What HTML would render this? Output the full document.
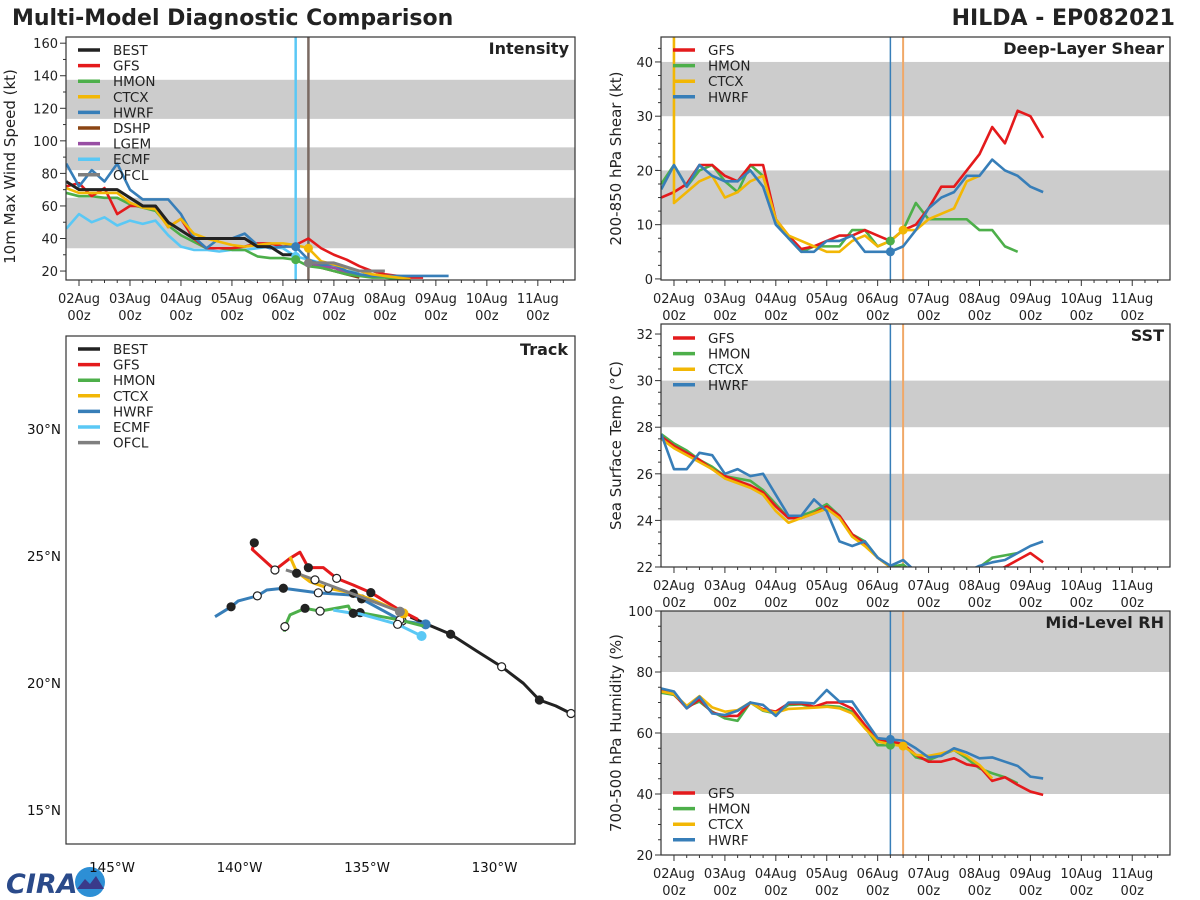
<!DOCTYPE html>
<html><head><meta charset="utf-8"><style>
html,body{margin:0;padding:0;background:#fff;}
svg{display:block;font-family:"DejaVu Sans","Liberation Sans",sans-serif;}
</style></head><body>
<svg id="chart" width="1200" height="900" viewBox="0 0 1200 900" xmlns="http://www.w3.org/2000/svg">
<text x="12" y="25" font-size="22" font-weight="bold" fill="#222">Multi-Model Diagnostic Comparison</text>
<text x="1175" y="25" font-size="22" font-weight="bold" fill="#222" text-anchor="end">HILDA - EP082021</text>
<g>
<text x="6" y="893" font-size="27" font-weight="bold" fill="#2a4a8a" font-style="italic">CIRA</text>
<circle cx="90" cy="882" r="15" fill="#2d8fd5"/>
<path d="M77 889 L85 879 L90 884 L96 876 L104 889 Z" fill="#3a3a8a"/>
</g>
</svg>
<script>
// ---------- time-series data (hours from 02Aug 00z) ----------
const intHours = [-6,0,6,12,18,24,30,36,42,48,54,60,66,72,78,84,90,96,102,108,114,120,126,132,138,144,150,156,162,168,174];
const intBEST = [75,70,70,70,70,65,60,60,50,45,40,40,40,40,40,35,35,30,30];
const intGFS  = [72,74,66,71,55,60,60,59,47,52,40,34,34,34,35,37,37,35,36,40,34,30,27,23,20,18,17,16,16];
const intHMON = [68,66,66,65,65,61,59,57,48,42,38,34,34,33,33,29,28,28,27,23,22,20,18,17,16,16,15,15];
const intCTCX = [71,68,68,68,68,62,59,58,47,52,43,40,38,36,35,36,37,37,36,34,26,24,22,20,18,17,16,15];
const intHWRF = [86,72,82,75,86,70,64,64,64,55,41,34,40,40,43,36,34,35,35,27,24,24,20,18,17,17,17,17,17,17,17];
const intECMF = [46,55,50,53,48,51,49,51,42,35,33,33,32,33,33,34,35,34,29,27,25,23,22,19];
const intDSHPHours = [108,114,120,126,132];
const intDSHP = [25,22,20,18,16];
const intLGEM = [25,23,22,19,17];
const intOFCLHours = [108,120,132,144];
const intOFCL = [25,25,20,20];

const shrGFS  = [15,16,17.5,21,21,19,18,21,21,11,8,5.5,6,7,8,8,9,8,7,9,10,13,17,17,20,23,28,25,31,30,26];
const shrHMON = [17.5,21,17,20,21,18,16,21,19,11,7.5,5,6,6,6,9,9,6,7,9,14,11,11,11,11,9,9,6,5];
const shrCTCX = [9999,14,16,18,19,15,16,18,19,11,8,7,6,5,5,7,8,6,7,9,9,11,12,13,18,19];
const shrHWRF = [16.5,21,17,21,19,18,18,20,17,10,7.5,5,5,7,7,8,5,5,5,6,9,13,15,16,19,19,22,20,19,17,16];

const sstGFS  = [27.6,27.2,26.9,26.6,26.2,25.9,25.7,25.5,25.2,24.6,24.1,24.1,24.3,24.6,24.2,23.4,23.0,22.4,22.0,21.7,21.5,21.4,21.3,21.4,21.5,21.6,21.8,22.0,22.3,22.6,22.2];
const sstHMON = [27.7,27.3,27.0,26.6,26.3,25.9,25.8,25.7,25.3,24.7,24.1,24.2,24.4,24.7,24.2,23.4,23.1,22.4,22.0,22.1,21.7,21.5,21.4,21.5,21.7,22.0,22.4,22.5,22.6];
const sstCTCX = [27.5,27.1,26.8,26.5,26.2,25.8,25.6,25.4,25.1,24.4,23.9,24.1,24.3,24.5,24.1,23.3,22.9,22.4,22.0,21.8,21.6];
const sstHWRF = [27.7,26.2,26.2,26.9,26.8,26.0,26.2,25.9,26.0,25.1,24.2,24.2,24.9,24.4,23.1,22.9,23.1,22.4,22.05,22.3,21.8,21.6,21.5,21.6,21.8,22.05,22.2,22.3,22.6,22.9,23.1];

const rhGFS  = [73.9,72.8,68.1,71,66.7,65.6,65.6,70,67.8,67,69.7,69.7,68.6,70,70,68,62.6,57.5,57.2,56.4,52.8,50.6,50.6,51.7,49.7,49,44.3,45.5,43,40.8,39.7];
const rhHMON = [73.2,72.5,68.6,70.3,67,64.8,64,70,67.3,66.4,69.2,69.4,68.4,68.9,68.6,67,62,56,56,56.6,52,51.1,52.8,54.4,51.7,48.4,46.8,45.5,43.5];
const rhCTCX = [73.6,72.8,68.9,72.1,68.4,67,67.5,70,67.5,66.7,67.9,68.1,68.3,68.6,68.1,66.4,61.5,57.2,56.3,55.7,52.8,52.5,53.3,54.4,52.5,49.5,45.1];
const rhHWRF = [74.6,73.6,68.1,71.9,66.4,65.9,67.3,70,69.2,65.6,70,70,69.7,74.1,70.3,70.3,64.3,58.3,57.9,57.5,55,52,52.5,55,53.6,51.7,52,50.6,49.2,45.7,45.1];

// ---------- track data (lon degE, lat degN) ----------
const trkBESTLon = [-126.7,-127.0,-127.6,-128.24,-128.87,-129.72,-130.70,-131.72,-132.66,-133.3];
const trkBESTLat = [18.7,18.8,19.1,19.33,19.99,20.64,21.26,21.92,22.32,22.6];
const trkBESTMk  = ['','o','','f','','o','','f','',''];
const trkGFSLon = [-133.0,-133.71,-134.85,-135.54,-136.19,-136.71,-137.30,-137.63,-138.02,-138.61,-139.50,-139.42];
const trkGFSLat = [22.5,22.87,23.56,23.86,24.12,24.54,24.54,25.15,24.91,24.45,25.26,25.52];
const trkGFSMk  = ['','','f','','o','','f','','','o','','f'];
const trkHMONLon = [-132.79,-133.71,-135.27,-135.67,-135.73,-136.84,-137.43,-138.02,-138.22,-138.24];
const trkHMONLat = [22.24,22.48,22.77,22.90,23.03,22.83,22.94,22.68,22.22,22.02];
const trkHMONMk  = ['','o','f','','','o','f','','o',''];
const trkCTCXLon = [-133.57,-134.75,-135.54,-136.52,-137.24,-137.76,-138.02];
const trkCTCXLat = [22.74,23.27,23.53,23.73,23.99,24.38,24.97];
const trkCTCXMk  = ['B','','f','o','','',''];
const trkHWRFLon = [-132.70,-133.62,-135.21,-135.54,-136.91,-138.28,-138.93,-139.30,-140.05,-140.33,-140.96];
const trkHWRFLat = [22.31,22.44,23.31,23.46,23.55,23.73,23.66,23.43,23.23,23.00,22.61];
const trkHWRFMk  = ['B','o','f','','o','f','','o','','f',''];
const trkECMFLon = [-132.86,-133.80,-135.27,-135.54,-136.32];
const trkECMFLat = [21.85,22.31,22.72,22.74,22.87];
const trkECMFMk  = ['B','o','','f',''];
const trkOFCLLon = [-133.71,-135.4,-137.04,-137.76,-138.18];
const trkOFCLLat = [22.81,23.45,24.06,24.32,24.45];
const trkOFCLMk  = ['B','','o','f',''];

const C = {BEST:'#222222',GFS:'#e41a1c',HMON:'#4daf4a',CTCX:'#f2b705',HWRF:'#377eb8',DSHP:'#8b4513',LGEM:'#984ea3',ECMF:'#5ac8f5',OFCL:'#7f7f7f'};
const NS='http://www.w3.org/2000/svg';
const svg=document.getElementById('chart');
function mk(tag,attrs,parent){const e=document.createElementNS(NS,tag);for(const k in attrs)e.setAttribute(k,attrs[k]);(parent||svg).appendChild(e);return e;}
const days=['02Aug','03Aug','04Aug','05Aug','06Aug','07Aug','08Aug','09Aug','10Aug','11Aug'];
let clipN=0;

function panel(p){
  const g=mk('g',{});
  
  
  const hx=h=>p.x0+(h-p.hmin)/(p.hmax-p.hmin)*(p.x1-p.x0);
  const vy=v=>p.y1-(v-p.vmin)/(p.vmax-p.vmin)*(p.y1-p.y0);
  p.hx=hx;p.vy=vy;
  p.bands.forEach(b=>{const r=mk('rect',{x:p.x0,y:vy(b[1]),width:p.x1-p.x0,height:vy(b[0])-vy(b[1]),fill:'#cccccc'},g);
    });
  const id='clip'+(clipN++);
  const cp=mk('clipPath',{id:id},g);mk('rect',{x:p.x0,y:p.y0,width:p.x1-p.x0,height:p.y1-p.y0},cp);
  const plot=mk('g',{'clip-path':'url(#'+id+')'},g);
  p.plot=plot;p.g=g;
  for(let h=0;h<=p.hmax;h+=6){const x=hx(h);const maj=h%24===0;
    mk('line',{x1:x,x2:x,y1:p.y1,y2:p.y1+(maj?6:3),stroke:'#333','stroke-width':1},g);
    if(maj){const d=days[h/24];
      const t1=mk('text',{x:x,y:p.y1+23,'font-size':13,'text-anchor':'middle',fill:'#222'},g);t1.textContent=d;
      
      const t2=mk('text',{x:x,y:p.y1+40,'font-size':13,'text-anchor':'middle',fill:'#222'},g);t2.textContent='00z';
      }}
  for(let v=Math.ceil(p.vmin/p.minor)*p.minor;v<=p.vmax+1e-9;v+=p.minor){const y=vy(v);
    const maj=Math.abs(v/p.major-Math.round(v/p.major))<1e-6;
    mk('line',{x1:p.x0-(maj?6:3),x2:p.x0,y1:y,y2:y,stroke:'#333','stroke-width':1},g);
    if(maj){const t=mk('text',{x:p.x0-8,y:y+5,'font-size':13,'text-anchor':'end',fill:'#222'},g);t.textContent=Math.round(v);
      }}
  const f=mk('rect',{x:p.x0,y:p.y0,width:p.x1-p.x0,height:p.y1-p.y0,fill:'none',stroke:'#333','stroke-width':1.2},g);
  
  const yl=mk('text',{x:0,y:0,'font-size':15,'text-anchor':'middle',fill:'#222',transform:'translate('+p.ylx+','+((p.y0+p.y1)/2+(p.yoff||0))+') rotate(-90)'},g);
  yl.textContent=p.ylabel;
  const tt=mk('text',{x:p.x1-6,y:p.y0+17,'font-size':16,'font-weight':'bold','text-anchor':'end',fill:'#222'},g);
  tt.textContent=p.title;
  return p;
}
function series(p,hours,vals,color,name,w){
  const pts=vals.map((v,i)=>p.hx(hours[i])+','+p.vy(v)).join(' ');
  const l=mk('polyline',{points:pts,fill:'none',stroke:color,'stroke-width':w||2.6,'stroke-linejoin':'round'},p.plot);
  
}
function vline(p,h,color,w){const x=p.hx(h);const l=mk('line',{x1:x,x2:x,y1:p.y0,y2:p.y1,stroke:color,'stroke-width':w},p.plot);
  }
function dot(p,h,v,color){const c=mk('circle',{cx:p.hx(h),cy:p.vy(v),r:4.5,fill:color},p.plot);
  }
function legend(g,x,y,names,dy){names.forEach((n,i)=>{const yy=y+i*dy;
  const lg=mk('g',{},g);
  mk('line',{x1:x,x2:x+22,y1:yy,y2:yy,stroke:C[n],'stroke-width':3.5},lg);
  const t=mk('text',{x:x+35,y:yy+5,'font-size':13.5,fill:'#222'},lg);t.textContent=n;});}

const H=(n,start)=>Array.from({length:n},(_,i)=>start+6*i);

const P1=panel({name:'intensity-panel',x0:66,x1:575,y0:37,y1:280,hmin:-6.12,hmax:233.5,vmin:14.5,vmax:163.8,major:20,minor:10,
  bands:[[34,65],[82,96],[113.5,137.5]],ylabel:'10m Max Wind Speed (kt)',ylx:15,yoff:8,title:'Intensity'});
vline(P1,102,C.ECMF,2.5);vline(P1,108,'#7a6a62',2.5);
series(P1,intHours,intECMF,C.ECMF,'ecmf-intensity-line');
series(P1,intDSHPHours,intDSHP,C.DSHP,'dshp-intensity-line');
series(P1,intDSHPHours,intLGEM,C.LGEM,'lgem-intensity-line');
series(P1,intHours,intHMON,C.HMON,'hmon-intensity-line');
series(P1,intHours,intGFS,C.GFS,'gfs-intensity-line');
series(P1,intHours,intHWRF,C.HWRF,'hwrf-intensity-line');
series(P1,intHours,intCTCX,C.CTCX,'ctcx-intensity-line');
series(P1,intOFCLHours,intOFCL,C.OFCL,'ofcl-intensity-line',3);
series(P1,intHours,intBEST,C.BEST,'best-intensity-line',3);
dot(P1,102,intHWRF[18],C.HWRF);dot(P1,102,intECMF[18],C.ECMF);dot(P1,102,intHMON[18],C.HMON);
dot(P1,108,intCTCX[19],C.CTCX);dot(P1,108,intOFCL[0],C.OFCL);
legend(P1.g,78,50,['BEST','GFS','HMON','CTCX','HWRF','DSHP','LGEM','ECMF','OFCL'],15.6);

function rightPanel(name,y0,y1,vmin,vmax,major,minor,bands,ylabel,title,G,Hm,Ct,Hw,legY,dots){
  const P=panel({name:name,x0:661,x1:1170,y0:y0,y1:y1,hmin:-6.12,hmax:233.8,vmin:vmin,vmax:vmax,major:major,minor:minor,bands:bands,ylabel:ylabel,ylx:621,title:title});
  vline(P,102,C.HWRF,1.5);vline(P,108,'#f0a868',2);
  series(P,H(Hm.length,-6),Hm,C.HMON,'hmon-'+name+'-line');
  series(P,H(G.length,-6),G,C.GFS,'gfs-'+name+'-line');
  series(P,H(Ct.length,-6),Ct,C.CTCX,'ctcx-'+name+'-line');
  series(P,H(Hw.length,-6),Hw,C.HWRF,'hwrf-'+name+'-line');
  if(dots){dot(P,102,Hm[18],C.HMON);dot(P,102,Hw[18],C.HWRF);dot(P,108,Ct[19],C.CTCX);}
  legend(P.g,673,legY,['GFS','HMON','CTCX','HWRF'],15.6);
  return P;
}
rightPanel('shear-panel',37,280,-0.2,44.6,10,2.5,[[10,20],[30,40]],'200-850 hPa Shear (kt)','Deep-Layer Shear',shrGFS,shrHMON,shrCTCX,shrHWRF,50,true);
rightPanel('sst-panel',324,567,22,32.43,2,0.5,[[24,26],[28,30]],'Sea Surface Temp (°C)','SST',sstGFS,sstHMON,sstCTCX,sstHWRF,338,false);
rightPanel('rh-panel',611,855,20,100,20,5,[[40,60],[80,100]],'700-500 hPa Humidity (%)','Mid-Level RH',rhGFS,rhHMON,rhCTCX,rhHWRF,793,true);

const T={x0:66,x1:575,y0:336,y1:844};
const lx=lon=>112+(lon+145)*25.5, ly=lat=>556-(lat-25)*25.4;
const tg=mk('g',{});
const tcp=mk('clipPath',{id:'trkclip'},tg);mk('rect',{x:T.x0,y:T.y0,width:T.x1-T.x0,height:T.y1-T.y0},tcp);
const tplot=mk('g',{'clip-path':'url(#trkclip)'},tg);
[-145,-140,-135,-130].forEach(l=>{const t=mk('text',{x:lx(l),y:872,'font-size':13.5,'text-anchor':'middle',fill:'#111'},tg);t.textContent=(-l)+'°W';
  });
[15,20,25,30].forEach(l=>{const t=mk('text',{x:61,y:ly(l)+5,'font-size':13.5,'text-anchor':'end',fill:'#111'},tg);t.textContent=l+'°N';
  });
function track(lons,lats,mks,color,name){
  const l=mk('polyline',{points:lons.map((v,i)=>lx(v)+','+ly(lats[i])).join(' '),fill:'none',stroke:color,'stroke-width':3,'stroke-linejoin':'round'},tplot);
  
  mks.forEach((m,i)=>{if(!m)return;
    const c=mk('circle',{cx:lx(lons[i]),cy:ly(lats[i]),r:m==='B'?5:4,fill:m==='f'?'#222':(m==='o'?'#fff':color),stroke:m==='B'?'none':'#222','stroke-width':1.2},tplot);
    });
}
track(trkBESTLon,trkBESTLat,trkBESTMk,C.BEST,'best-track-line');
track(trkHWRFLon,trkHWRFLat,trkHWRFMk,C.HWRF,'hwrf-track-line');
track(trkHMONLon,trkHMONLat,trkHMONMk,C.HMON,'hmon-track-line');
track(trkECMFLon,trkECMFLat,trkECMFMk,C.ECMF,'ecmf-track-line');
track(trkGFSLon,trkGFSLat,trkGFSMk,C.GFS,'gfs-track-line');
track(trkCTCXLon,trkCTCXLat,trkCTCXMk,C.CTCX,'ctcx-track-line');
track(trkOFCLLon,trkOFCLLat,trkOFCLMk,C.OFCL,'ofcl-track-line');
const tf=mk('rect',{x:T.x0,y:T.y0,width:T.x1-T.x0,height:T.y1-T.y0,fill:'none',stroke:'#333','stroke-width':1.2},tg);

const ttl=mk('text',{x:568,y:355,'font-size':16,'font-weight':'bold','text-anchor':'end',fill:'#222'},tg);ttl.textContent='Track';

legend(tg,78,349,['BEST','GFS','HMON','CTCX','HWRF','ECMF','OFCL'],15.6);
</script>
</body></html>
